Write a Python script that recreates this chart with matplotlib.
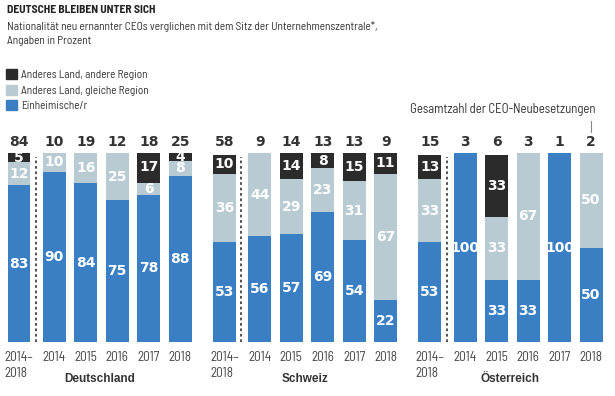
"""Deutsche bleiben unter sich - CEO Neubesetzungen nach Nationalitaet"""
import numpy as np
import matplotlib; matplotlib.use("Agg")
import matplotlib.pyplot as plt
from matplotlib.patches import Patch

# data (Angaben in Prozent)
groups = ["Deutschland", "Schweiz", "Österreich"]
years = ["2014–\n2018", "2014", "2015", "2016", "2017", "2018"]

totals_de = [84, 10, 19, 12, 18, 25]
heim_de = [83, 90, 84, 75, 78, 88]
gleich_de = [12, 10, 16, 25, 6, 8]
ander_de = [5, 0, 0, 0, 17, 4]

totals_ch = [58, 9, 14, 13, 13, 9]
heim_ch = [53, 56, 57, 69, 54, 22]
gleich_ch = [36, 44, 29, 23, 31, 67]
ander_ch = [10, 0, 14, 8, 15, 11]

totals_at = [15, 3, 6, 3, 1, 2]
heim_at = [53, 100, 33, 33, 100, 50]
gleich_at = [33, 0, 33, 67, 0, 50]
ander_at = [13, 0, 33, 0, 0, 0]

labels = ["Anderes Land, andere Region", "Anderes Land, gleiche Region", "Einheimische/r"]

BLUE = "#3a7fc4"; LIGHT = "#b8cbd3"; DARK = "#2b2b2b"; TXT = "#333333"
NARROW = ["Barlow Semi Condensed", "DejaVu Sans"]
NUM = "DejaVu Sans"

W, H = 615, 396
fig = plt.figure(figsize=(W/100, H/100), dpi=100)
# bars: 0% at y=342px, 100% at y=153px
unit = 31.5
x0 = 19
ax = fig.add_axes([0, (H-342)/H, 1, 189/H])
ax.set_xlim(-x0/unit, (W-x0)/unit)
ax.set_ylim(0, 100)
ax.axis("off")

data = [(totals_de, heim_de, gleich_de, ander_de),
        (totals_ch, heim_ch, gleich_ch, ander_ch),
        (totals_at, heim_at, gleich_at, ander_at)]
inner = np.array([0, 1.12, 2.12, 3.12, 4.12, 5.12])
gstep = 6.52
bw = 0.73

for g, (tot, heim, gleich, ander) in enumerate(data):
    xs = g*gstep + inner
    heim = np.array(heim); gleich = np.array(gleich); ander = np.array(ander)
    ax.bar(xs, heim, bw, color=BLUE, label=labels[2])
    ax.bar(xs, gleich, bw, bottom=heim, color=LIGHT, label=labels[1])
    ax.bar(xs, ander, bw, bottom=heim+gleich, color=DARK, label=labels[0])
    for i, x in enumerate(xs):
        b = 0
        for v in (heim[i], gleich[i], ander[i]):
            if v > 0:
                ax.text(x, b + v/2, str(v), ha="center", va="center", color="white",
                        fontsize=10, fontweight="bold", family=NUM)
            b += v
        ax.text(x, 105.8, str(tot[i]), ha="center", va="center", color=TXT,
                fontsize=10, fontweight="bold", family=NUM, clip_on=False)
        ax.text(x, -4.6, years[i], ha="center", va="top", color="#444444",
                fontsize=9.5, family=NARROW, multialignment="left", linespacing=1.3,
                clip_on=False)
    # dotted separator after the summary bar
    sep = g*gstep + 0.54
    ax.plot([sep, sep], [0, 98], ls=(0, (1.5, 1.5)), color="#444444", lw=1.3)
    fig.text((x0 + (xs[0]+xs[-1])/2*unit)/W, 1-379/H, groups[g], ha="center", va="center",
             fontsize=8.5, fontweight="bold", color=TXT, family="Liberation Sans")

# header
fig.text(7/W, 1-10/H, "DEUTSCHE BLEIBEN UNTER SICH", ha="left", va="center",
         fontsize=8.3, fontweight="bold", color="#222222", family=NARROW)
fig.text(7/W, 1-26/H, "Nationalität neu ernannter CEOs verglichen mit dem Sitz der Unternehmenszentrale*,",
         ha="left", va="center", fontsize=8.2, color=TXT, family=NARROW)
fig.text(7/W, 1-41/H, "Angaben in Prozent", ha="left", va="center",
         fontsize=8.2, color=TXT, family=NARROW)

# legend
handles = [Patch(color=DARK), Patch(color=LIGHT), Patch(color=BLUE)]
fig.legend(handles, labels, loc="upper left", bbox_to_anchor=(6/W, 1-69/H),
           frameon=False, handlelength=1.0, handleheight=1.0, handletextpad=0.3,
           labelspacing=0.42, borderaxespad=0, borderpad=0,
           prop={"family": NARROW, "size": 8.1}, labelcolor=TXT)

# annotation for totals
fig.text(596/W, 1-110/H, "Gesamtzahl der CEO-Neubesetzungen", ha="right", va="center",
         fontsize=9.2, color=TXT, family=NARROW)
xa = (x0 + (2*gstep + inner[-1])*unit)/W
fig.add_artist(plt.Line2D([xa, xa], [1-121/H, 1-132/H], color="#888888", lw=0.8))

plt.savefig("out.png", dpi=100)
plt.close()
